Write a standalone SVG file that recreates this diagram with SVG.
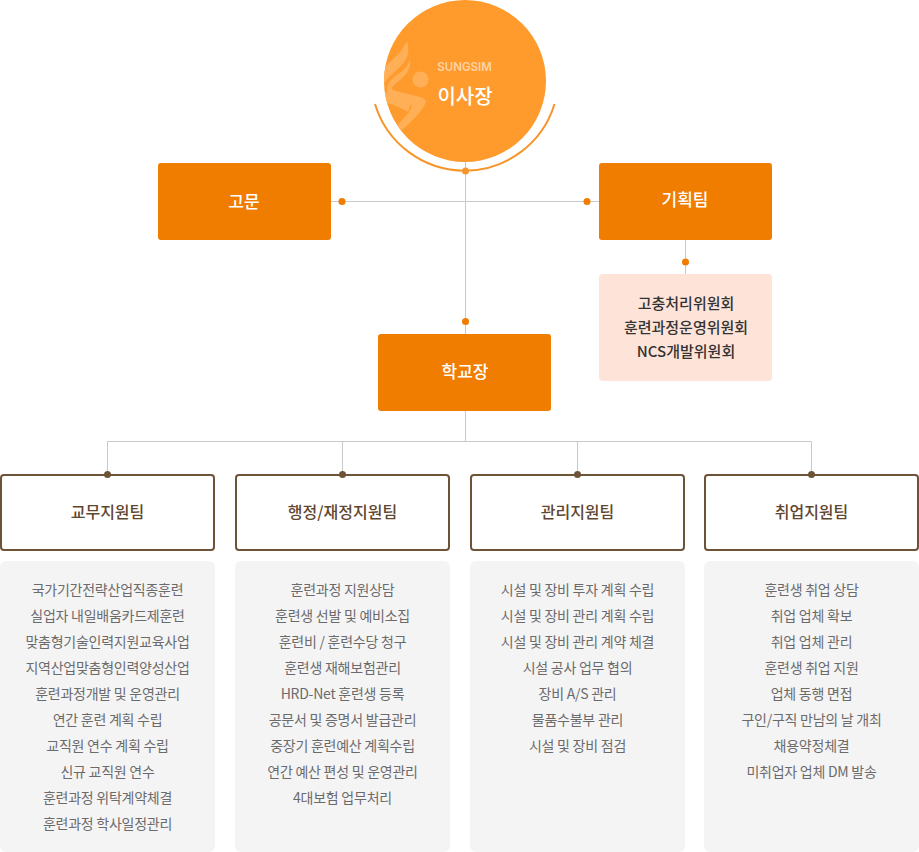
<svg xmlns="http://www.w3.org/2000/svg" width="919" height="852" viewBox="0 0 919 852">
<style>
text{font-family:"Noto Sans CJK KR","Noto Sans",sans-serif;text-anchor:middle}
.o{fill:#f07c00}
.t{fill:#fff;font-size:17px;font-weight:500}
.b{fill:#fff;stroke:#6f5338;stroke-width:2}
.bt{fill:#5f4630;font-size:16px;font-weight:500}
.g{fill:#f5f4f5}
.gt{fill:#6b6b6b;font-size:14px;letter-spacing:-.25px}
.k{fill:#333;font-size:15px;font-weight:500}
.l{stroke:#c9c9c9;stroke-width:1;fill:none}
.d{fill:#f07c00}
.dd{fill:#6f5338}
</style>
<defs><clipPath id="cc"><circle cx="465" cy="81" r="81"/></clipPath></defs>
<g id="chairman">
<path d="M375 104A93.750 93.750 0 0 0 554.500 104" fill="none" stroke="#f7952a" stroke-width="2"/>
<circle cx="465" cy="81" r="81" fill="#ff9a2c"/>
<g fill="#ffb057" clip-path="url(#cc)">
<circle cx="420.500" cy="79.500" r="8"/>
<path d="M407 41C410 52 408 59 400 67C394 73 388 77 384 83L384 68C392 60 402 52 407 41Z"/>
<path d="M410 59C412 72 402 78 395 84C390 88 392 90 396 91L416 96C425 98 428 100 424 106C418 116 408 124 402 130L397 125C406 116 414 108 411 104C405 101 392 100 388 94C384 86 392 78 398 74C404 70 408 66 410 59Z"/>
<path d="M383 90C390 96 402 100 411 104L408 112C402 108 392 104 383 102Z"/>
</g>
<text x="464.500" y="71" fill="#ffd3a3" font-size="11.500" font-weight="600" style="font-family:Inter,sans-serif">SUNGSIM</text>
<text x="465" y="104" fill="#fff" font-size="20" font-weight="500">이사장</text>
</g>
<g id="advisor"><rect class="o" x="158" y="163" width="173" height="77" rx="3"/><text class="t" x="244" y="208">고문</text></g>
<g id="planning"><rect class="o" x="599" y="163" width="173" height="77" rx="3"/><text class="t" x="685" y="206">기획팀</text></g>
<g id="committees"><rect x="599" y="274" width="173" height="107" rx="4" fill="#fee4d8"/>
<text class="k" x="686" y="309">고충처리위원회</text><text class="k" x="686" y="333">훈련과정운영위원회</text><text class="k" x="686" y="357">NCS개발위원회</text></g>
<g id="principal"><rect class="o" x="378" y="334" width="173" height="77" rx="3"/><text class="t" x="465" y="378">학교장</text></g>
<g id="team1"><rect class="b" x="1" y="475" width="213" height="75" rx="3"/><text class="bt" x="107.500" y="518">교무지원팀</text>
<rect class="g" x="0" y="561" width="215" height="291" rx="6"/>
<text class="gt" x="107.500" y="595">국가기간전략산업직종훈련</text><text class="gt" x="107.500" y="621">실업자 내일배움카드제훈련</text><text class="gt" x="107.500" y="647">맞춤형기술인력지원교육사업</text><text class="gt" x="107.500" y="673">지역산업맞춤형인력양성산업</text><text class="gt" x="107.500" y="699">훈련과정개발 및 운영관리</text><text class="gt" x="107.500" y="725">연간 훈련 계획 수립</text><text class="gt" x="107.500" y="751">교직원 연수 계획 수립</text><text class="gt" x="107.500" y="777">신규 교직원 연수</text><text class="gt" x="107.500" y="803">훈련과정 위탁계약체결</text><text class="gt" x="107.500" y="829">훈련과정 학사일정관리</text></g>
<g id="team2"><rect class="b" x="236" y="475" width="213" height="75" rx="3"/><text class="bt" x="342.500" y="518">행정/재정지원팀</text>
<rect class="g" x="235" y="561" width="215" height="291" rx="6"/>
<text class="gt" x="342.500" y="595">훈련과정 지원상담</text><text class="gt" x="342.500" y="621">훈련생 선발 및 예비소집</text><text class="gt" x="342.500" y="647">훈련비 / 훈련수당 청구</text><text class="gt" x="342.500" y="673">훈련생 재해보험관리</text><text class="gt" x="342.500" y="699">HRD-Net 훈련생 등록</text><text class="gt" x="342.500" y="725">공문서 및 증명서 발급관리</text><text class="gt" x="342.500" y="751">중장기 훈련예산 계획수립</text><text class="gt" x="342.500" y="777">연간 예산 편성 및 운영관리</text><text class="gt" x="342.500" y="803">4대보험 업무처리</text></g>
<g id="team3"><rect class="b" x="471" y="475" width="213" height="75" rx="3"/><text class="bt" x="577.500" y="518">관리지원팀</text>
<rect class="g" x="470" y="561" width="215" height="291" rx="6"/>
<text class="gt" x="577.500" y="595">시설 및 장비 투자 계획 수립</text><text class="gt" x="577.500" y="621">시설 및 장비 관리 계획 수립</text><text class="gt" x="577.500" y="647">시설 및 장비 관리 계약 체결</text><text class="gt" x="577.500" y="673">시설 공사 업무 협의</text><text class="gt" x="577.500" y="699">장비 A/S 관리</text><text class="gt" x="577.500" y="725">물품수불부 관리</text><text class="gt" x="577.500" y="751">시설 및 장비 점검</text></g>
<g id="team4"><rect class="b" x="705" y="475" width="213" height="75" rx="3"/><text class="bt" x="811.500" y="518">취업지원팀</text>
<rect class="g" x="704" y="561" width="215" height="291" rx="6"/>
<text class="gt" x="811.500" y="595">훈련생 취업 상담</text><text class="gt" x="811.500" y="621">취업 업체 확보</text><text class="gt" x="811.500" y="647">취업 업체 관리</text><text class="gt" x="811.500" y="673">훈련생 취업 지원</text><text class="gt" x="811.500" y="699">업체 동행 면접</text><text class="gt" x="811.500" y="725">구인/구직 만남의 날 개최</text><text class="gt" x="811.500" y="751">채용약정체결</text><text class="gt" x="811.500" y="777">미취업자 업체 DM 발송</text></g>
<g id="connectors">
<path class="l" d="M465.500 162V334M331 201.500H599M685.500 240V274M465.500 411V441.500M107.500 474V441.500H811.500V474M342.500 441.500V474M577.500 441.500V474"/>
<circle cx="465.500" cy="171" r="3.500" fill="#f7952a"/>
<circle class="d" cx="342" cy="201.500" r="3.500"/>
<circle class="d" cx="587" cy="201.500" r="3.500"/>
<circle class="d" cx="465.500" cy="321.500" r="3.500"/>
<circle class="d" cx="685.500" cy="262" r="3.500"/>
<circle class="dd" cx="107.500" cy="474.500" r="3.500"/>
<circle class="dd" cx="342.500" cy="474.500" r="3.500"/>
<circle class="dd" cx="577.500" cy="474.500" r="3.500"/>
<circle class="dd" cx="811.500" cy="474.500" r="3.500"/>
</g>
</svg>
